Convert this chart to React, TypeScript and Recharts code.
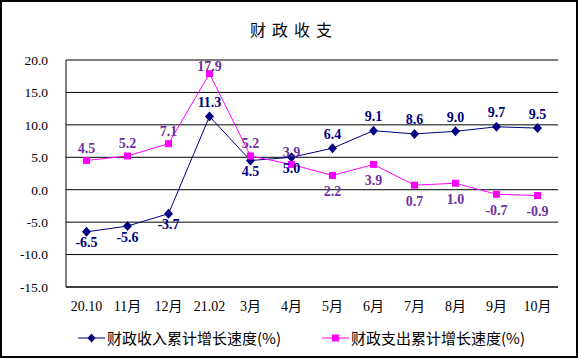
import React from "react";
import {
  CartesianGrid,
  LabelList,
  Legend,
  Line,
  LineChart,
  ReferenceLine,
  XAxis,
  YAxis,
} from "recharts";

const months = ["20.10", "11月", "12月", "21.02", "3月", "4月", "5月", "6月", "7月", "8月", "9月", "10月"];
const income = [-6.5, -5.6, -3.7, 11.3, 4.5, 5.0, 6.4, 9.1, 8.6, 9.0, 9.7, 9.5];
const spending = [4.5, 5.2, 7.1, 17.9, 5.2, 3.9, 2.2, 3.9, 0.7, 1.0, -0.7, -0.9];
const yTicks = [-15, -10, -5, 0, 5, 10, 15, 20];

// where each data label sits relative to its point
const incomeLabelSide = ["b", "b", "b", "a", "b", "b", "a", "a", "a", "a", "a", "a"];
const spendingLabelSide = ["a", "a", "a", "a", "a", "a", "b", "b", "b", "b", "b", "b"];

const INCOME = "#000080";
const SPEND = "#FF00FF";
const SPEND_LABEL = "#7030A0";
const SERIF = "'Liberation Serif', 'Times New Roman', 'Noto Sans CJK SC', serif";
const CJK = "'Noto Sans CJK SC', sans-serif";

const data = months.map((m, i) => ({ m, inc: income[i], exp: spending[i] }));
const boundaryTicks = months.map((_, i) => i).concat(months.length);

const Diamond = (p: any) => {
  const { cx, cy } = p;
  if (cx == null || cy == null) return null;
  return <path d={`M${cx},${cy - 5}L${cx + 4.5},${cy}L${cx},${cy + 5}L${cx - 4.5},${cy}Z`} fill={INCOME} />;
};

const Square = (p: any) => {
  const { cx, cy } = p;
  if (cx == null || cy == null) return null;
  return <rect x={cx - 3.5} y={cy - 3.5} width={7} height={7} fill={SPEND} />;
};

const makeLabel = (sides: string[], color: string, up: number, down: number) => (p: any) => {
  const { x, y, value, index } = p;
  const above = sides[index] === "a";
  let ty = above ? y - up : y + down;
  if (ty < 66) ty = 66;
  return (
    <text
      x={x}
      y={ty}
      textAnchor="middle"
      dominantBaseline="central"
      fill={color}
      fontFamily={SERIF}
      fontWeight="bold"
      fontSize={14}
    >
      {Number(value).toFixed(1)}
    </text>
  );
};

const legendItems = [
  { name: "财政收入累计增长速度(%)", color: INCOME, shape: "d", left: 78 },
  { name: "财政支出累计增长速度(%)", color: SPEND, shape: "s", left: 322 },
];

const LegendBox = () => (
  <div style={{ position: "relative", height: 20, width: 579 }}>
    {legendItems.map((it) => (
      <div
        key={it.name}
        style={{ position: "absolute", left: it.left, top: 0, height: 20, display: "flex", alignItems: "center" }}
      >
        <svg width={27} height={20}>
          <line x1={0} y1={10} x2={27} y2={10} stroke={it.color} strokeWidth={1} />
          {it.shape === "d" ? (
            <path d="M13.5,5.5L17.5,10L13.5,14.5L9.5,10Z" fill={it.color} />
          ) : (
            <rect x={10} y={6.5} width={7} height={7} fill={it.color} />
          )}
        </svg>
        <span style={{ fontFamily: CJK, fontSize: 15, color: "#000", marginLeft: 2, lineHeight: "20px" }}>
          {it.name}
        </span>
      </div>
    ))}
  </div>
);

export default function App() {
  return (
    <div
      style={{
        position: "absolute",
        left: 0,
        top: 0,
        width: 579,
        height: 359,
        background: "#fff",
      }}
    >
      <div
        style={{
          position: "absolute",
          left: 0,
          top: 0,
          width: 578,
          height: 358,
          border: "2px solid #000",
          boxSizing: "border-box",
        }}
      />
      <div
        style={{
          position: "absolute",
          left: 0,
          top: 17,
          width: 588,
          textAlign: "center",
          fontFamily: CJK,
          fontSize: 16,
          letterSpacing: 6,
          lineHeight: "24px",
        }}
      >
        财政收支
      </div>
      <LineChart width={579} height={359} data={data} margin={{ top: 60, right: 21, left: 0, bottom: 11 }}>
        <CartesianGrid vertical={false} stroke="#000" strokeWidth={1} />
        <XAxis
          xAxisId="b"
          type="number"
          domain={[0, months.length]}
          ticks={boundaryTicks}
          allowDataOverflow
          height={0}
          mirror
          tick={false}
          tickSize={5}
          stroke="#000"
          axisLine={{ stroke: "#000" }}
          tickLine={{ stroke: "#000" }}
        />
        <XAxis
          dataKey="m"
          scale="band"
          height={41}
          interval={0}
          tickLine={false}
          tickSize={0}
          tickMargin={14}
          axisLine={{ stroke: "#000" }}
          tick={{ fill: "#000", fontSize: 14, fontFamily: SERIF }}
        />
        <YAxis
          width={66}
          domain={[-15, 20]}
          ticks={yTicks}
          interval={0}
          tickLine={false}
          tickSize={0}
          tickMargin={18}
          axisLine={{ stroke: "#000" }}
          tickFormatter={(v: number) => v.toFixed(1)}
          tick={{ fill: "#000", fontSize: 13.5, fontFamily: SERIF }}
        />
        <YAxis
          yAxisId="r"
          orientation="right"
          width={0}
          domain={[-15, 20]}
          tick={false}
          tickLine={false}
          axisLine={{ stroke: "#808080" }}
        />
        <ReferenceLine y={20} stroke="#808080" />
        <Legend verticalAlign="bottom" content={() => <LegendBox />} />
        <Line
          dataKey="inc"
          name="财政收入累计增长速度(%)"
          stroke={INCOME}
          strokeWidth={1}
          dot={<Diamond />}
          activeDot={false}
          isAnimationActive={false}
        >
          <LabelList dataKey="inc" content={makeLabel(incomeLabelSide, INCOME, 14, 11)} />
        </Line>
        <Line
          dataKey="exp"
          name="财政支出累计增长速度(%)"
          stroke={SPEND}
          strokeWidth={1}
          dot={<Square />}
          activeDot={false}
          isAnimationActive={false}
        >
          <LabelList dataKey="exp" content={makeLabel(spendingLabelSide, SPEND_LABEL, 12, 16)} />
        </Line>
      </LineChart>
    </div>
  );
}
